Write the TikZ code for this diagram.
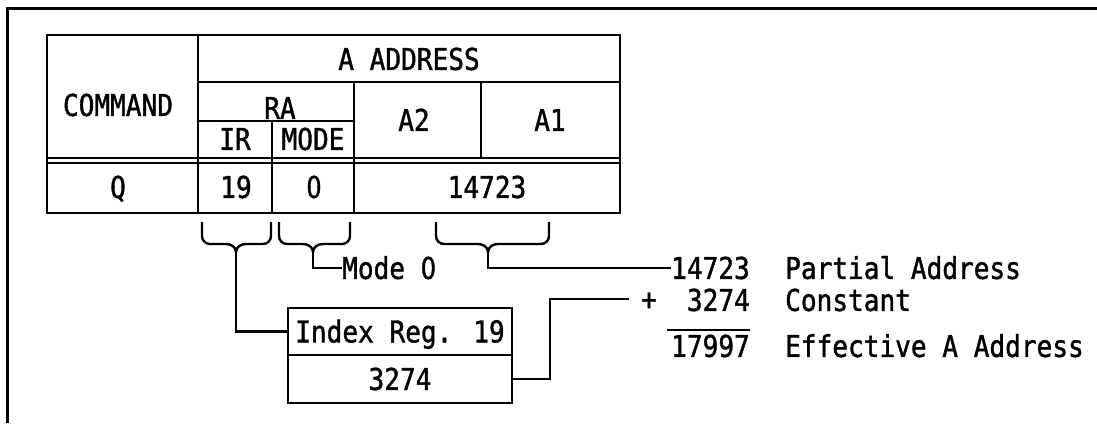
\documentclass[tikz,border=0pt]{standalone}
\usepackage{fontspec}
\newfontfamily\monof[FakeStretch=0.87,FakeBold=1.3]{DejaVu Sans Mono}
\newfontfamily\zerof[FakeStretch=0.8,FakeBold=1.3]{DejaVu Sans}
\newcommand\zr{{\zerof 0}}
\newcommand\tf{\monof\fontsize{30pt}{32pt}\selectfont}
\newcommand\mybrace[4]{%
  \draw[bracestyle] (#1,222) -- (#1,236) to[out=-90,in=180] (#1+8,244) -- (#3-10,244)
    to[out=0,in=90] (#3,252) coordinate (#4) to[out=90,in=180] (#3+10,244)
    -- (#2-8,244) to[out=0,in=-90] (#2,236) -- (#2,222);}
\begin{document}
\begin{tikzpicture}[x=1pt,y=-1pt,
  lbl/.style={font=\tf, inner sep=0pt, text height=21.8pt, text depth=0pt},
  tline/.style={line width=2.4pt},
  conn/.style={line width=2.2pt},
  frameline/.style={line width=3pt},
  bracestyle/.style={line width=2.4pt},
  regbox/.style={draw, line width=2.4pt, minimum width=224pt, inner sep=0pt,
                 font=\tf, text height=21.8pt, text depth=0pt}]
\useasboundingbox (0,0) rectangle (1097,423);
% frame
\draw[frameline] (1097,8) -- (7,8) -- (7,423);
% table grid
\draw[tline] (47,35) rectangle (620,213);
\draw[tline] (198,35) -- (198,213);
\draw[tline] (198,82) -- (620,82);
\draw[tline] (198,121) -- (354,121);
\draw[tline] (272,121) -- (272,213);
\draw[tline] (354,82) -- (354,213);
\draw[tline] (481,82) -- (481,157.5);
\draw[line width=2pt] (47,157.5) -- (620,157.5);
\draw[line width=2pt] (47,162.5) -- (620,162.5);
% table texts
\node[lbl] (cmd) at (118,105) {COMMAND};
\node[lbl] (aaddr) at (409,59) {A ADDRESS};
\node[lbl] (ra) at (280,108) {RA};
\node[lbl] (ir) at (235,139) {IR};
\node[lbl] (modeh) at (313,139) {MODE};
\node[lbl] (a2) at (414,120) {A2};
\node[lbl] (a1) at (550,120) {A1};
\node[lbl] (q) at (118,187) {Q};
\node[lbl] (v19) at (236,187) {19};
\node[lbl] (v0) at (314,187) {\zr};
\node[lbl] (vaddr) at (487,187) {14723};
% braces
\mybrace{202}{271}{236}{b1}
\mybrace{279}{350}{313}{b2}
\mybrace{436}{549}{488}{b3}
% index register
\node[regbox, minimum height=47pt] (idx) at (400,331.5) {Index Reg. 19};
\node[regbox, minimum height=48pt] (idxval) at (400,379) {3274};
% labels on the right
\node[lbl, anchor=west] (mode) at (342,268) {Mode \zr};
\node[lbl, anchor=east] (pa) at (750,268) {14723};
\node[lbl] (plus) at (649,299) {+};
\node[lbl, anchor=east] (cst) at (750,300) {3274};
\node[lbl, anchor=east] (eff) at (750,346) {17997};
\node[lbl, anchor=west] (pat) at (785,268) {Partial Address};
\node[lbl, anchor=west] (cstt) at (785,300) {Constant};
\node[lbl, anchor=west] (efft) at (785,346) {Effective A Address};
% connectors
\draw[conn] (b1) |- (idx.west);
\draw[conn] (b2) |- (mode.west);
\draw[conn] (b3) |- (pa.west);
\draw[conn, shorten >=12pt] (idxval.east) -- ++(37,0) |- (plus.west);
\draw[conn] ([xshift=-4pt,yshift=5pt]eff.north west) -- ([yshift=5pt]eff.north east);
\end{tikzpicture}
\end{document}
